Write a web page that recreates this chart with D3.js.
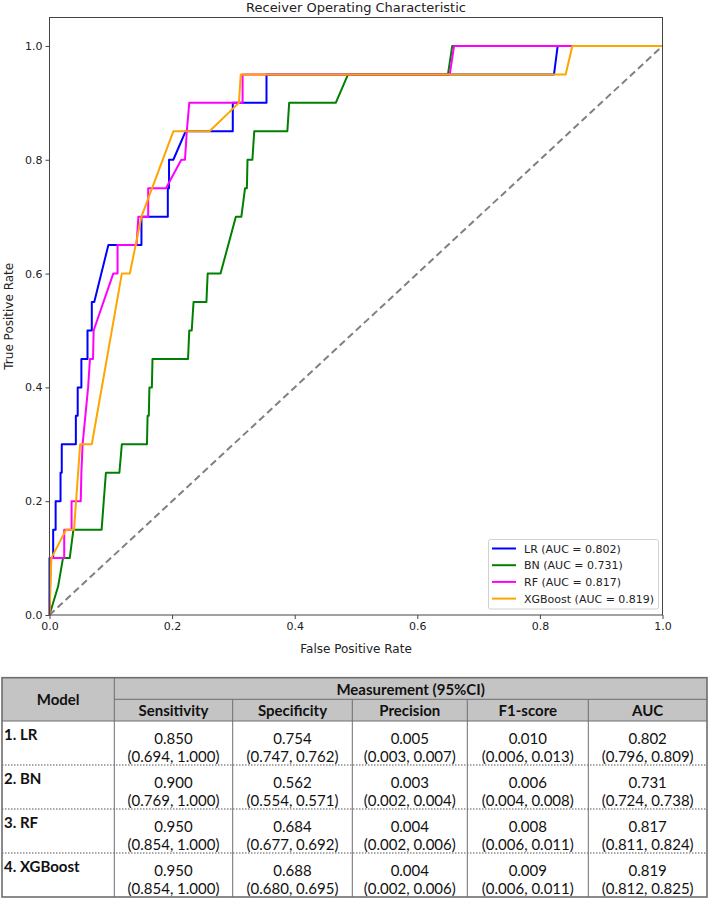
<!DOCTYPE html>
<html>
<head>
<meta charset="utf-8">
<script src="https://cdn.jsdelivr.net/npm/d3@7"></script>
<style>
  html, body { margin: 0; padding: 0; background: #fff; }
  svg { display: block; }
</style>
</head>
<body>
<div id="chart"></div>
<script>
// ---------------- DATA ----------------
const models = ["LR", "BN", "RF", "XGBoost"];
const aucValues = [0.802, 0.731, 0.817, 0.819];

// ROC curves: [FPR, TPR]
const rocLR = [[0,0],[0,0.1],[0.006,0.1],[0.006,0.15],[0.010,0.15],[0.010,0.2],[0.018,0.2],[0.018,0.25],[0.020,0.25],[0.020,0.3],[0.043,0.3],[0.043,0.35],[0.046,0.35],[0.046,0.4],[0.052,0.4],[0.052,0.45],[0.062,0.45],[0.062,0.5],[0.069,0.5],[0.069,0.55],[0.073,0.55],[0.096,0.65],[0.150,0.65],[0.150,0.7],[0.193,0.7],[0.193,0.75],[0.195,0.75],[0.195,0.8],[0.202,0.8],[0.222,0.85],[0.299,0.85],[0.299,0.9],[0.354,0.9],[0.354,0.95],[0.823,0.95],[0.829,1.0],[1,1]];
const rocBN = [[0,0],[0.014,0.05],[0.022,0.1],[0.033,0.1],[0.039,0.15],[0.085,0.15],[0.092,0.25],[0.114,0.25],[0.118,0.3],[0.159,0.3],[0.160,0.35],[0.162,0.35],[0.163,0.4],[0.167,0.4],[0.168,0.45],[0.226,0.45],[0.228,0.5],[0.232,0.5],[0.235,0.55],[0.256,0.55],[0.258,0.6],[0.279,0.6],[0.304,0.7],[0.313,0.7],[0.319,0.75],[0.322,0.75],[0.323,0.8],[0.331,0.8],[0.334,0.85],[0.388,0.85],[0.391,0.9],[0.467,0.9],[0.487,0.95],[0.650,0.95],[0.657,1.0],[1,1]];
const rocRF = [[0,0],[0.002,0.1],[0.024,0.1],[0.024,0.15],[0.036,0.15],[0.036,0.2],[0.051,0.2],[0.052,0.25],[0.054,0.3],[0.063,0.4],[0.066,0.45],[0.071,0.45],[0.072,0.5],[0.104,0.6],[0.111,0.6],[0.111,0.65],[0.142,0.65],[0.145,0.7],[0.161,0.7],[0.161,0.75],[0.190,0.75],[0.215,0.8],[0.221,0.8],[0.224,0.85],[0.228,0.9],[0.315,0.9],[0.315,0.95],[0.653,0.95],[0.660,1.0],[1,1]];
const rocXGB = [[0,0],[0.003,0.1],[0.027,0.15],[0.040,0.15],[0.050,0.3],[0.069,0.3],[0.118,0.6],[0.131,0.6],[0.150,0.7],[0.202,0.85],[0.261,0.85],[0.309,0.9],[0.312,0.95],[0.842,0.95],[0.853,1.0],[1,1]];
const rocSeries = [rocLR, rocBN, rocRF, rocXGB];

const xTicks = [0, 0.2, 0.4, 0.6, 0.8, 1.0];
const yTicks = [0, 0.2, 0.4, 0.6, 0.8, 1.0];

// Table data
const rowLabels = ["1. LR", "2. BN", "3. RF", "4. XGBoost"];
const metricNames = ["Sensitivity", "Specificity", "Precision", "F1-score", "AUC"];
const sensEst = [0.850, 0.900, 0.950, 0.950];
const sensLo  = [0.694, 0.769, 0.854, 0.854];
const sensHi  = [1.000, 1.000, 1.000, 1.000];
const specEst = [0.754, 0.562, 0.684, 0.688];
const specLo  = [0.747, 0.554, 0.677, 0.680];
const specHi  = [0.762, 0.571, 0.692, 0.695];
const precEst = [0.005, 0.003, 0.004, 0.004];
const precLo  = [0.003, 0.002, 0.002, 0.002];
const precHi  = [0.007, 0.004, 0.006, 0.006];
const f1Est   = [0.010, 0.006, 0.008, 0.009];
const f1Lo    = [0.006, 0.004, 0.006, 0.006];
const f1Hi    = [0.013, 0.008, 0.011, 0.011];
const aucEst  = [0.802, 0.731, 0.817, 0.819];
const aucLo   = [0.796, 0.724, 0.811, 0.812];
const aucHi   = [0.809, 0.738, 0.824, 0.825];

// ---------------- STYLE ----------------
const seriesColors = ["#0000ff", "#008000", "#ff00ff", "#ffa500"];
const W = 708, H = 898;
const svg = d3.select("#chart").append("svg").attr("width", W).attr("height", H);

// ---------------- CHART ----------------
const plot = { left: 49.5, right: 662.5, top: 17.5, bottom: 615 };
const x = d3.scaleLinear().domain([0, 1]).range([plot.left, plot.right]);
const y = d3.scaleLinear().domain([0, 1.05]).range([plot.bottom, plot.top]);
const tickFont = "'DejaVu Sans', sans-serif";
const axisColor = "#444";

// title
svg.append("text")
  .attr("x", (plot.left + plot.right) / 2).attr("y", 11.5)
  .attr("text-anchor", "middle")
  .attr("font-family", tickFont).attr("font-size", 13).attr("fill", "#222")
  .text("Receiver Operating Characteristic");

const line = d3.line().x(d => x(d[0])).y(d => y(d[1]));

const curves = svg.append("g");
rocSeries.forEach((s, i) => {
  curves.append("path")
    .datum(s)
    .attr("d", line)
    .attr("fill", "none")
    .attr("stroke", seriesColors[i])
    .attr("stroke-width", 2)
    .attr("stroke-linejoin", "round");
});
// chance line
svg.append("path")
  .datum([[0, 0], [1, 1]])
  .attr("d", line)
  .attr("fill", "none")
  .attr("stroke", "#808080")
  .attr("stroke-width", 2)
  .attr("stroke-dasharray", "7,4");

// axes frame
svg.append("rect")
  .attr("x", plot.left).attr("y", plot.top)
  .attr("width", plot.right - plot.left).attr("height", plot.bottom - plot.top)
  .attr("fill", "none").attr("stroke", axisColor).attr("stroke-width", 1);

const xAxis = svg.append("g")
  .attr("transform", `translate(0,${plot.bottom})`)
  .call(d3.axisBottom(x).tickValues(xTicks).tickFormat(d3.format(".1f")).tickSize(4).tickPadding(3));
const yAxis = svg.append("g")
  .attr("transform", `translate(${plot.left},0)`)
  .call(d3.axisLeft(y).tickValues(yTicks).tickFormat(d3.format(".1f")).tickSize(4).tickPadding(3));
[xAxis, yAxis].forEach(a => {
  a.select(".domain").remove();
  a.selectAll("line").attr("stroke", axisColor);
  a.selectAll("text").attr("font-family", tickFont).attr("font-size", 11).attr("fill", "#222");
});

svg.append("text")
  .attr("x", (plot.left + plot.right) / 2).attr("y", 652.5)
  .attr("text-anchor", "middle")
  .attr("font-family", tickFont).attr("font-size", 12).attr("fill", "#222")
  .text("False Positive Rate");
svg.append("text")
  .attr("transform", `translate(13,${(plot.top + plot.bottom) / 2}) rotate(-90)`)
  .attr("text-anchor", "middle")
  .attr("font-family", tickFont).attr("font-size", 12).attr("fill", "#222")
  .text("True Positive Rate");

// legend
const lg = svg.append("g").attr("transform", "translate(488.5,539.5)");
lg.append("rect").attr("width", 170).attr("height", 69.5).attr("rx", 2)
  .attr("fill", "#fff").attr("fill-opacity", 0.85).attr("stroke", "#d0d0d0");
models.forEach((m, i) => {
  const ly = 9 + i * 16.7;
  lg.append("line").attr("x1", 3.5).attr("x2", 27.5).attr("y1", ly).attr("y2", ly)
    .attr("stroke", seriesColors[i]).attr("stroke-width", 2);
  lg.append("text").attr("x", 35.5).attr("y", ly + 4)
    .attr("font-family", tickFont).attr("font-size", 11).attr("fill", "#222")
    .text(`${m} (AUC = ${aucValues[i].toFixed(3)})`);
});

// ---------------- TABLE ----------------
const colX = [2, 114.3, 232.7, 352.3, 467.3, 588.3, 707];
const tTop = 677.7, h1Bot = 699.3, h2Bot = 721, tBot = 897;
const rowH = (tBot - h2Bot) / rowLabels.length;
const gridColor = "#6e6e6e";
const headBg = "#c4c4c4";
const tFont = "Lato, 'Open Sans', sans-serif";
const tb = svg.append("g");

// header background
tb.append("rect").attr("x", colX[0]).attr("y", tTop)
  .attr("width", colX[6] - colX[0]).attr("height", h2Bot - tTop).attr("fill", headBg);

// dotted row separators
for (let i = 1; i < rowLabels.length; i++) {
  const yy = h2Bot + i * rowH;
  tb.append("line").attr("x1", colX[0]).attr("x2", colX[6]).attr("y1", yy).attr("y2", yy)
    .attr("stroke", "#555").attr("stroke-width", 1).attr("stroke-dasharray", "1.5,1.5");
}
// header lines
tb.append("line").attr("x1", colX[1]).attr("x2", colX[6]).attr("y1", h1Bot).attr("y2", h1Bot)
  .attr("stroke", gridColor).attr("stroke-width", 1);
tb.append("line").attr("x1", colX[0]).attr("x2", colX[6]).attr("y1", h2Bot).attr("y2", h2Bot)
  .attr("stroke", gridColor).attr("stroke-width", 1);
// vertical lines
tb.append("line").attr("x1", colX[1]).attr("x2", colX[1]).attr("y1", tTop).attr("y2", tBot)
  .attr("stroke", gridColor).attr("stroke-width", 1);
for (let c = 2; c <= 5; c++) {
  tb.append("line").attr("x1", colX[c]).attr("x2", colX[c]).attr("y1", h1Bot).attr("y2", tBot)
    .attr("stroke", gridColor).attr("stroke-width", 1);
}
// outer border
tb.append("rect").attr("x", colX[0]).attr("y", tTop)
  .attr("width", colX[6] - colX[0]).attr("height", tBot - tTop)
  .attr("fill", "none").attr("stroke", gridColor).attr("stroke-width", 1.6);

function txt(xx, yy, s, bold, anchor) {
  tb.append("text").attr("x", xx).attr("y", yy)
    .attr("text-anchor", anchor || "middle")
    .attr("dominant-baseline", "central")
    .attr("font-family", tFont).attr("font-size", 15)
    .attr("font-weight", bold ? 700 : 400).attr("fill", "#111")
    .text(s);
}
txt((colX[0] + colX[1]) / 2, (tTop + h2Bot) / 2, "Model", true);
txt((colX[1] + colX[6]) / 2, (tTop + h1Bot) / 2, "Measurement (95%CI)", true);
metricNames.forEach((m, c) => txt((colX[c + 1] + colX[c + 2]) / 2, (h1Bot + h2Bot) / 2, m, true));

const metricEst = [sensEst, specEst, precEst, f1Est, aucEst];
const metricLo = [sensLo, specLo, precLo, f1Lo, aucLo];
const metricHi = [sensHi, specHi, precHi, f1Hi, aucHi];
const f3 = d3.format(".3f");
rowLabels.forEach((r, i) => {
  const top = h2Bot + i * rowH;
  txt(colX[0] + 2, top + 12.5, r, true, "start");
  metricEst.forEach((arr, c) => {
    const cx = (colX[c + 1] + colX[c + 2]) / 2;
    txt(cx, top + 16.5, f3(arr[i]), false);
    txt(cx, top + 34.5, `(${f3(metricLo[c][i])}, ${f3(metricHi[c][i])})`, false);
  });
});
</script>
</body>
</html>
